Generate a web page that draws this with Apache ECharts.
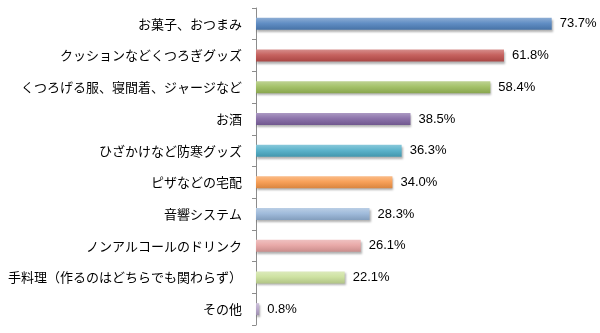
<!DOCTYPE html>
<html>
<head>
<meta charset="utf-8">
<style>
  html, body { margin: 0; padding: 0; background: #fff; }
  #chart { width: 600px; height: 333px; }
</style>
<script src="https://cdn.jsdelivr.net/npm/echarts@6/dist/echarts.min.js"></script>
</head>
<body>
<div id="chart"></div>
<script>
// Survey items (top to bottom) and their shares in percent
const categories = [
  'お菓子、おつまみ',
  'クッションなどくつろぎグッズ',
  'くつろげる服、寝間着、ジャージなど',
  'お酒',
  'ひざかけなど防寒グッズ',
  'ピザなどの宅配',
  '音響システム',
  'ノンアルコールのドリンク',
  '手料理（作るのはどちらでも関わらず）',
  'その他'
];
const values = [73.7, 61.8, 58.4, 38.5, 36.3, 34.0, 28.3, 26.1, 22.1, 0.8];

// Base colour of each bar
const barColors = [
  '#4F81BD', '#C0504D', '#9BBB59', '#8064A2', '#4BACC6',
  '#F79646', '#95B3D7', '#E6A09F', '#C9DF98', '#B3A2C7'
];

function mix(hex, target, t) {
  const c = parseInt(hex.slice(1), 16);
  const r = (c >> 16) & 255, g = (c >> 8) & 255, b = c & 255;
  const f = v => Math.round(v + (target - v) * t);
  return 'rgb(' + f(r) + ',' + f(g) + ',' + f(b) + ')';
}

function barFill(hex) {
  return new echarts.graphic.LinearGradient(0, 0, 0, 1, [
    { offset: 0, color: mix(hex, 255, 0.35) },
    { offset: 0.45, color: mix(hex, 255, 0.1) },
    { offset: 1, color: mix(hex, 0, 0.12) }
  ]);
}

const chart = echarts.init(document.getElementById('chart'), null, { renderer: 'canvas' });

chart.setOption({
  animation: false,
  backgroundColor: '#ffffff',
  grid: { left: 256, right: 23, top: 8, bottom: 8, containLabel: false },
  xAxis: {
    type: 'value',
    min: 0,
    max: 80,
    show: false
  },
  yAxis: {
    type: 'category',
    data: categories,
    inverse: true,
    axisLine: { show: true, lineStyle: { color: '#8c8c8c', width: 1 } },
    axisTick: { show: true, length: 4, inside: false, lineStyle: { color: '#8c8c8c' } },
    axisLabel: {
      margin: 14,
      color: '#000',
      fontSize: 13,
      fontFamily: '"Noto Sans CJK JP", sans-serif'
    },
    splitLine: { show: false }
  },
  series: [{
    type: 'bar',
    barWidth: 12,
    data: values.map((v, i) => ({
      value: v,
      itemStyle: {
        color: barFill(barColors[i]),
        shadowColor: 'rgba(0,0,0,0.3)',
        shadowBlur: 2,
        shadowOffsetX: 1,
        shadowOffsetY: 2
      }
    })),
    label: {
      show: true,
      position: 'right',
      distance: 8,
      color: '#000',
      fontSize: 13,
      fontFamily: '"Liberation Sans", "Noto Sans", sans-serif',
      formatter: p => p.value.toFixed(1) + '%'
    }
  }]
});
</script>
</body>
</html>
